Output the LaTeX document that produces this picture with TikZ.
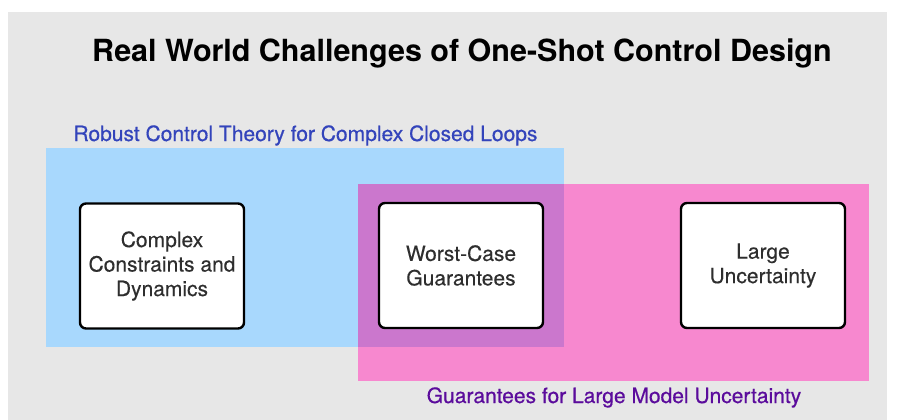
\documentclass[tikz,border=0pt]{standalone}
\usepackage{fontspec}
\setmainfont{TeX Gyre Heros}
\newfontfamily\medfont[FakeBold=0.6]{TeX Gyre Heros}
\newfontfamily\boxfont[FakeBold=0.3]{TeX Gyre Heros}
\definecolor{panelgray}{HTML}{E7E7E7}
\definecolor{robustblue}{HTML}{A8D8FD}
\definecolor{uncpink}{HTML}{F788CF}
\definecolor{overlapmix}{HTML}{CB77CD}
\definecolor{robusttext}{HTML}{3344BB}
\definecolor{unctext}{HTML}{5B0C9C}
\definecolor{boxtext}{HTML}{2E2E2E}

\begin{document}
\begin{tikzpicture}[x=1pt,y=-1pt,
  challenge/.style={draw=black,fill=white,line width=2.4pt,rounded corners=6pt,
    minimum width=164pt,minimum height=125pt,align=center,text=boxtext,
    font=\boxfont\fontsize{21}{24.5}\selectfont},
  setlabel/.style={anchor=base,font=\medfont\fontsize{21}{24}\selectfont}]
  % page and panel
  \fill[white] (0,0) rectangle (897,420);
  \fill[panelgray] (8,12) rectangle (887,420);
  % title
  \node[anchor=base,font=\fontsize{30.5}{36}\selectfont\bfseries] (title) at (462,62)
    {Real World Challenges of One-Shot Control Design};
  % robust control region (blue) and uncertainty region (pink)
  \fill[robustblue] (46,148) rectangle (564,347);
  \fill[uncpink] (358,184) rectangle (869,381);
  \fill[overlapmix] (358,184) rectangle (564,347);
  \node[setlabel,text=robusttext] (robustlbl) at (305.5,141)
    {Robust Control Theory for Complex Closed Loops};
  \node[setlabel,text=unctext] (unclbl) at (614,403)
    {Guarantees for Large Model Uncertainty};
  % challenges
  \node[challenge] (constraints) at (162,266) {Complex\\Constraints and\\Dynamics};
  \node[challenge] (worstcase) at (461,265.5) {Worst-Case\\Guarantees};
  \node[challenge] (uncertainty) at (763,265.5) {Large\\Uncertainty};
\end{tikzpicture}
\end{document}
